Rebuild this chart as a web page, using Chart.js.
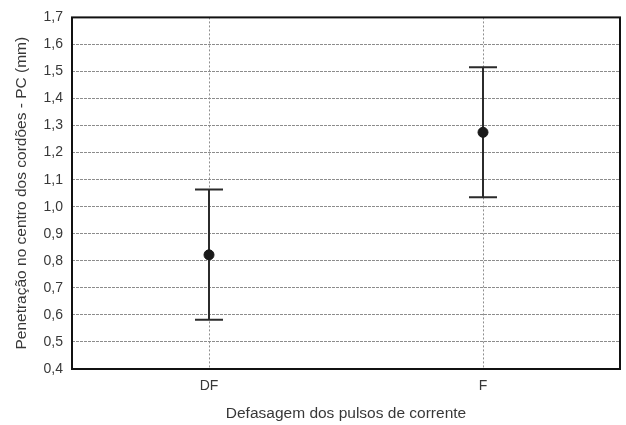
<!DOCTYPE html>
<html>
<head>
<meta charset="utf-8">
<script src="https://cdn.jsdelivr.net/npm/chart.js@4/dist/chart.umd.min.js"></script>
<style>
  html, body { margin: 0; padding: 0; background: #fff; }
  #wrap { width: 626px; height: 425px; }
</style>
</head>
<body>
<div id="wrap"><canvas id="myChart" width="626" height="425"></canvas></div>
<script>
/* Data */
const categories = ['DF', 'F'];
const means = [0.822, 1.275];
const lower = [0.582, 1.035];
const upper = [1.064, 1.516];

const yMin = 0.4;
const yMax = 1.7;
const yStep = 0.1;

const textColor = '#383838';
const fontFamily = "'Liberation Sans', Arial, sans-serif";

/* Frame around the plot area + whiskers with caps */
const errorBars = {
  id: 'errorBars',
  beforeDatasetsDraw(chart) {
    const { ctx, chartArea: a, scales: { x, y } } = chart;
    ctx.save();

    ctx.strokeStyle = '#111';
    ctx.lineWidth = 2;
    ctx.strokeRect(a.left, a.top, a.right - a.left, a.bottom - a.top);

    ctx.strokeStyle = '#2b2b2b';
    ctx.lineWidth = 2;
    const cap = 14;
    categories.forEach(function (c, i) {
      const px = x.getPixelForValue(i);
      const yTop = y.getPixelForValue(upper[i]);
      const yBot = y.getPixelForValue(lower[i]);
      ctx.beginPath();
      ctx.moveTo(px, yTop);
      ctx.lineTo(px, yBot);
      ctx.moveTo(px - cap, yTop);
      ctx.lineTo(px + cap, yTop);
      ctx.moveTo(px - cap, yBot);
      ctx.lineTo(px + cap, yBot);
      ctx.stroke();
    });
    ctx.restore();
  }
};

var ctx = document.getElementById('myChart').getContext('2d');

var chart = new Chart(ctx, {
  type: 'line',
  data: {
    labels: categories,
    datasets: [{
      label: 'Média',
      data: means,
      showLine: false,
      pointRadius: 5,
      pointHoverRadius: 5,
      pointBackgroundColor: '#1a1a1a',
      pointBorderColor: '#1a1a1a',
    }]
  },
  options: {
    responsive: false,
    animation: false,
    layout: { padding: { top: 13, right: 5, left: 0, bottom: 0 } },
    plugins: {
      legend: { display: false },
      tooltip: { enabled: false }
    },
    scales: {
      x: {
        type: 'category',
        offset: true,
        grid: {
          display: true,
          offset: false,
          drawTicks: false,
          color: '#8f8f8f',
          lineWidth: 1,
        },
        border: { display: false, dash: [2, 2] },
        ticks: {
          color: textColor,
          padding: 9,
          font: { family: fontFamily, size: 14 }
        },
        title: {
          display: true,
          text: 'Defasagem dos pulsos de corrente',
          color: textColor,
          padding: { top: 0, bottom: 2 },
          font: { family: fontFamily, size: 15.5 }
        },
        afterFit(scale) { scale.height = 56; }
      },
      y: {
        min: yMin,
        max: yMax,
        grid: {
          drawTicks: false,
          color: '#8c8c8c',
          lineWidth: 1,
        },
        border: { display: false, dash: [3, 1] },
        ticks: {
          stepSize: yStep,
          color: textColor,
          padding: 9,
          font: { family: fontFamily, size: 14 },
          callback: function (v) { return v.toFixed(1).replace('.', ','); }
        },
        title: {
          display: true,
          text: 'Penetração no centro dos cordões - PC (mm)',
          color: textColor,
          padding: { top: 12, bottom: 0 },
          font: { family: fontFamily, size: 15.5 }
        },
        afterFit(scale) { scale.width = 72; }
      }
    }
  },
  plugins: [errorBars]
});
</script>
</body>
</html>
